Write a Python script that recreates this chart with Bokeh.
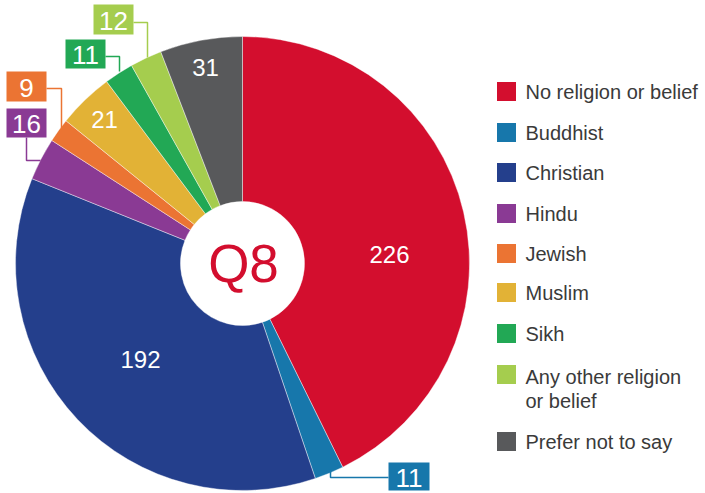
import math
from bokeh.plotting import figure
from bokeh.models import Range1d
from bokeh.core.properties import value
from bokeh.embed import file_html
from bokeh.resources import INLINE

# ---------------- data ----------------
categories = ["No religion or belief", "Buddhist", "Christian", "Hindu", "Jewish",
              "Muslim", "Sikh", "Any other religion or belief", "Prefer not to say"]
counts = [226, 11, 192, 16, 9, 21, 11, 12, 31]
colors = ["#D30E2E", "#1777AB", "#243F8C", "#8A3A94", "#EB7433",
          "#E2B236", "#22A855", "#A5CD4E", "#58595B"]
center_label = "Q8"

# ---------------- layout (image-pixel coordinates, y downward) ----------------
IMG_W, IMG_H = 705, 493
def Y(img_y):
    return IMG_H - img_y

CX, CY = 242, 263
R_OUT, R_IN = 227, 62
FONT = value("Liberation Sans")

inside_labels = {   # category -> label centre
    "No religion or belief": (389, 254),
    "Christian": (140, 359),
    "Prefer not to say": (205, 67),
    "Muslim": (104, 119),
}
box_labels = {      # category -> (left, top, right, bottom), leader polyline
    "Buddhist": ((388, 462, 429, 490), [(330, 469), (330, 477), (388, 477)]),
    "Hindu": ((6, 108, 46, 137), [(26, 137), (26, 160), (40, 160)]),
    "Jewish": ((6, 71, 46, 101), [(46, 88), (61, 88), (61, 128)]),
    "Sikh": ((65, 39, 105, 68), [(105, 56), (119, 56), (119, 71)]),
    "Any other religion or belief": ((93, 4, 133, 34), [(133, 22), (147, 22), (147, 57)]),
}
legend_x_sq, legend_x_txt, legend_sq = 506, 525, 19
legend_rows = [91, 132, 172, 213, 253, 292, 333, 374, 441]
legend_lines = {"Any other religion or belief": ["Any other religion", "or belief"]}

p = figure(width=IMG_W, height=IMG_H, x_range=Range1d(0, IMG_W), y_range=Range1d(0, IMG_H),
           toolbar_location=None, output_backend="svg", min_border=0)
p.axis.visible = False
p.grid.visible = False
p.outline_line_color = None
p.background_fill_color = "white"

# wedges
total = sum(counts)
cum = 0
starts, ends = [], []
for c in counts:
    a0 = math.pi / 2 - 2 * math.pi * cum / total
    cum += c
    a1 = math.pi / 2 - 2 * math.pi * cum / total
    starts.append(a1)
    ends.append(a0)

p.annular_wedge(x=[CX] * len(counts), y=[Y(CY)] * len(counts), inner_radius=R_IN,
                outer_radius=R_OUT, start_angle=starts, end_angle=ends,
                direction="anticlock", fill_color=colors, line_color="white",
                line_width=0.6, line_alpha=0.7)

# centre label
p.text(x=[CX + 1], y=[Y(CY)], text=[center_label], text_color="#D30E2E",
       text_font=FONT, text_font_size="53px", text_align="center", text_baseline="middle")

# inside value labels
for cat, (lx, ly) in inside_labels.items():
    i = categories.index(cat)
    p.text(x=[lx], y=[Y(ly)], text=[str(counts[i])], text_color="white", text_font=FONT,
           text_font_size="24px", text_align="center", text_baseline="middle")

# boxed value labels with leader lines
for cat, ((l, t, r, b), pts) in box_labels.items():
    i = categories.index(cat)
    p.line([q[0] for q in pts], [Y(q[1]) for q in pts], line_color=colors[i], line_width=1.5)
    p.quad(left=[l], right=[r], top=[Y(t)], bottom=[Y(b)], fill_color=colors[i], line_color=None)
    p.text(x=[(l + r) / 2], y=[Y((t + b) / 2 + 1)], text=[str(counts[i])], text_color="white",
           text_font=FONT, text_font_size="26px", text_align="center", text_baseline="middle")

# legend
for i, cat in enumerate(categories):
    yc = legend_rows[i]
    p.rect(x=[legend_x_sq], y=[Y(yc)], width=legend_sq, height=legend_sq,
           fill_color=colors[i], line_color=None)
    lines = legend_lines.get(cat, [cat])
    if len(lines) == 1:
        p.text(x=[legend_x_txt], y=[Y(yc)], text=[cat], text_color="#3a3a3a",
               text_font=FONT, text_font_size="20px", text_align="left", text_baseline="middle")
    else:
        for k, ln in enumerate(lines):
            p.text(x=[legend_x_txt], y=[Y(yc + 2 + 24 * k)], text=[ln], text_color="#3a3a3a",
                   text_font=FONT, text_font_size="20px", text_align="left",
                   text_baseline="middle")

open("out.html", "w").write(file_html(p, INLINE))
